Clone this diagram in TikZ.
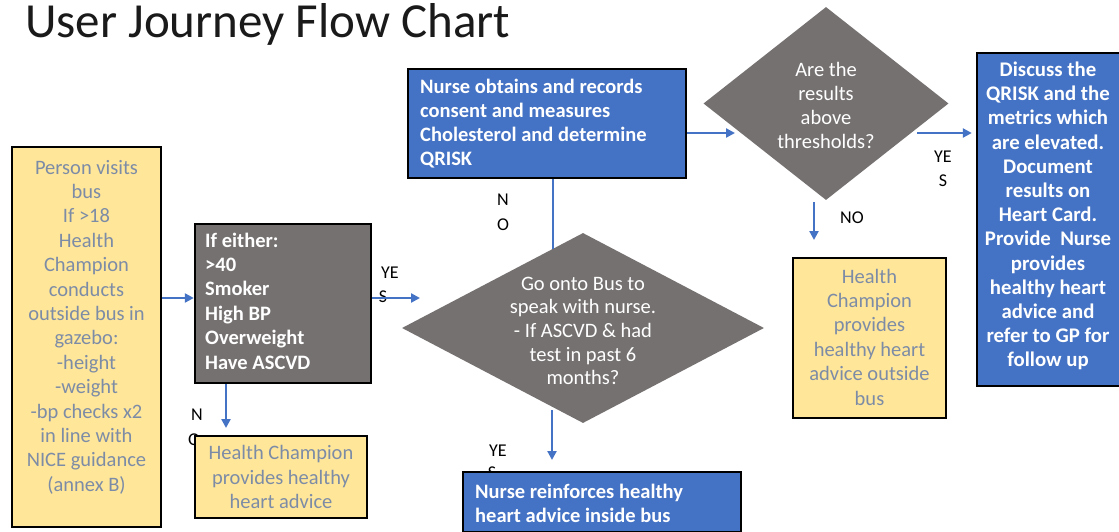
\documentclass[tikz,border=0pt]{standalone}
\usepackage{fontspec}
\setmainfont{Carlito}
\usetikzlibrary{arrows.meta,shapes.geometric}
\definecolor{ylw}{HTML}{FFE699}
\definecolor{ytxt}{HTML}{7D8CA6}
\definecolor{gry}{HTML}{767171}
\definecolor{blu}{HTML}{4472C4}
\definecolor{lnc}{HTML}{4472C4}
\definecolor{ttl}{HTML}{1A1A1A}
\begin{document}
\begin{tikzpicture}[x=1pt,y=-1pt,
  rbox/.style={draw=black,line width=2.4pt,inner sep=0,rectangle},
  ybox/.style={rbox,fill=ylw},
  gbox/.style={rbox,fill=gry},
  bbox/.style={rbox,fill=blu},
  dia/.style={diamond,fill=gry,draw=none,inner sep=0},
  ytext/.style={inner sep=0,align=center,text=ytxt,font=\fontsize{20.5}{24.4}\selectfont},
  wtext/.style={inner sep=0,text=white,font=\bfseries\fontsize{20.5}{24.4}\selectfont},
  dtext/.style={inner sep=0,align=center,text=white,font=\fontsize{20.5}{23.6}\selectfont},
  lbl/.style={inner sep=0,text=black,font=\fontsize{18}{22}\selectfont},
  arr/.style={draw=lnc,line width=2.4pt,-{Triangle[length=9pt,width=9pt]}},
  ln/.style={draw=lnc,line width=2.4pt}]
\useasboundingbox (0,0) rectangle (1119,532);
\clip (0,0) rectangle (1119,532);
\fill[white] (0,0) rectangle (1119,532);

% title
\node[anchor=base west,inner sep=0,text=ttl,font=\fontsize{49}{54}\selectfont] (title) at (25,38) {User Journey Flow Chart};

% labels (drawn first so boxes cover them partly)
\node[lbl] (n1a) at (503,200) {N};
\node[lbl] (n1b) at (503,225) {O};
\node[lbl] (y1a) at (390,273) {YE};
\node[lbl] (y1b) at (383,297) {S};
\node[lbl] (n2a) at (197,415) {N};
\node[lbl] (n2b) at (194,440) {O};
\node[lbl] (y2a) at (498,451) {YE};
\node[lbl] (y2b) at (492,473) {S};
\node[lbl] (y3a) at (943,157) {YE};
\node[lbl] (y3b) at (943,181) {S};
\node[lbl] (no3) at (852,218) {NO};

% shapes
\node[ybox,minimum width=149,minimum height=380] (visit) at (86.5,337) {};
\node[gbox,minimum width=176,minimum height=159] (either) at (283,303.5) {};
\node[ybox,minimum width=172,minimum height=82] (champa) at (281,477) {};
\node[dia,minimum width=362,minimum height=190] (bus) at (583,328) {};
\node[bbox,minimum width=278,minimum height=109] (nurse) at (547,123.5) {};
\node[dia,minimum width=245,minimum height=193] (thr) at (826,103.5) {};
\node[bbox,minimum width=145,minimum height=333] (discuss) at (1049.5,219.5) {};
\node[ybox,minimum width=153,minimum height=160] (champb) at (869.5,338) {};
\node[bbox,minimum width=278,minimum height=60] (reinf) at (602,502) {};

% texts
\node[ytext] (tvisit) at (86.5,327) {Person visits\\bus\\If >18\\Health\\Champion\\conducts\\outside bus in\\gazebo:\\-height\\-weight\\-bp checks x2\\in line with\\NICE guidance\\(annex B)};
\node[wtext,align=left,anchor=west] (teither) at (205,301) {If either:\\>40\\Smoker\\High BP\\Overweight\\Have ASCVD};
\node[ytext] (tchampa) at (281,477) {Health Champion\\provides healthy\\heart advice};
\node[dtext] (tbus) at (583,331) {Go onto Bus to\\speak with nurse.\\- If ASCVD \& had\\test in past 6\\months?};
\node[wtext,align=left,anchor=west,font=\bfseries\fontsize{20.5}{24}\selectfont] (tnurse) at (420,124) {Nurse obtains and records\\consent and measures\\Cholesterol and determine\\QRISK};
\node[dtext,font=\fontsize{20.5}{24}\selectfont] (tthr) at (826,105) {Are the\\results\\above\\thresholds?};
\node[wtext,align=center,font=\bfseries\fontsize{20.8}{24.2}\selectfont] (tdiscuss) at (1048,216) {Discuss the\\QRISK and the\\metrics which\\are elevated.\\Document\\results on\\Heart Card.\\Provide~ Nurse\\provides\\healthy heart\\advice and\\refer to GP for\\follow up};
\node[ytext] (tchampb) at (869.5,337) {Health\\Champion\\provides\\healthy heart\\advice outside\\bus};
\node[wtext,align=left,anchor=west,font=\bfseries\fontsize{20.5}{24}\selectfont] (treinf) at (475,503) {Nurse reinforces healthy\\heart advice inside bus};

% free ends
\coordinate (busin) at (420,298);
\coordinate (champaup) at (226,428);
\coordinate (busnw) at (553,248.6);
\coordinate (thrin) at (735,133);
\coordinate (throut) at (917,133);
\coordinate (thrbot) at (814,202);
\coordinate (champbup) at (814,240);
\coordinate (busbot) at (552,410);
\coordinate (reinfup) at (552,460);

% connectors
\draw[arr] (visit.east |- 0,298) -- (either.west |- 0,298);
\draw[arr] (either.east |- 0,298) -- (busin);
\draw[arr] (either.south -| champaup) -- (champaup);
\draw[ln] (busnw) -- (nurse.south -| busnw);
\draw[arr] (nurse.east |- thrin) -- (thrin);
\draw[arr,shorten >=4pt] (throut) -- (discuss.west |- throut);
\draw[arr] (thrbot) -- (champbup);
\draw[arr] (busbot) -- (reinfup);
\end{tikzpicture}
\end{document}
